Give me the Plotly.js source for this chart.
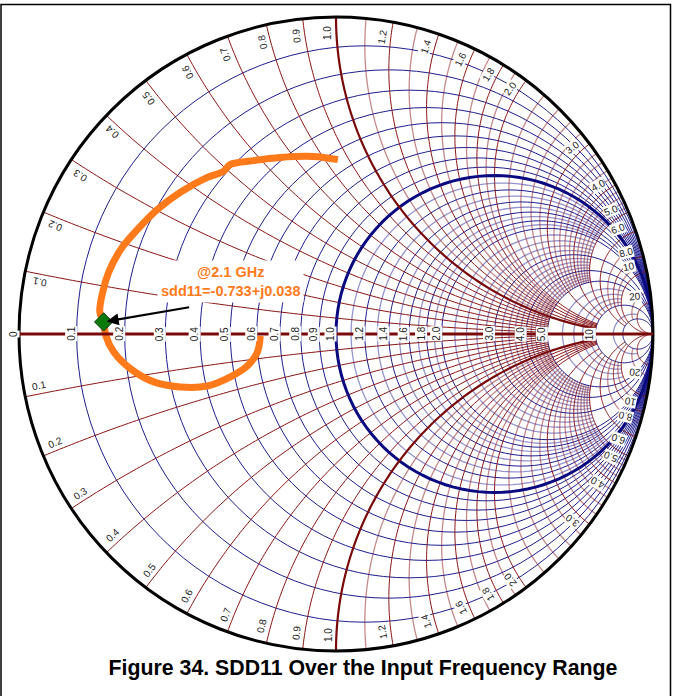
<!DOCTYPE html>
<html><head><meta charset="utf-8">
<script src="https://cdn.plot.ly/plotly-3.0.1.min.js"></script>
<style>html,body{margin:0;padding:0;background:#fff}#chart{width:673px;height:696px}</style>
</head><body><div id="chart"></div>
<script>
// SDD11 trace, read as reflection coefficient (Gamma) real / imaginary parts
const gammaRe = [0.006,-0.072,-0.176,-0.261,-0.333,-0.355,-0.406,-0.491,-0.563,-0.626,-0.679,-0.717,-0.736,-0.745,-0.733,-0.726,-0.701,-0.648,-0.575,-0.491,-0.406,-0.333,-0.280,-0.248,-0.239];
const gammaIm = [0.550,0.560,0.557,0.547,0.535,0.513,0.494,0.447,0.393,0.330,0.267,0.195,0.132,0.069,0.038,-0.006,-0.057,-0.110,-0.151,-0.167,-0.164,-0.135,-0.101,-0.057,-0.006];
const markerRe = [-0.733];
const markerIm = [0.038];
const markerText = '@2.1 GHz<br>sdd11=-0.733+j0.038';

// tick labels
const realTicks  = [0,0.1,0.2,0.3,0.4,0.5,0.6,0.7,0.8,0.9,1.0,1.2,1.4,1.6,1.8,2.0,3.0,4.0,5.0,10];
const realLabels = ['0','0.1','0.2','0.3','0.4','0.5','0.6','0.7','0.8','0.9','1.0','1.2','1.4','1.6','1.8','2.0','3.0','4.0','5.0','10'];
const imagTicks  = [0.1,0.2,0.3,0.4,0.5,0.6,0.7,0.8,0.9,1.0,1.2,1.4,1.6,1.8,2.0,3.0,4.0,5.0,6.0,8.0,10,20];
const imagLabels = ['0.1','0.2','0.3','0.4','0.5','0.6','0.7','0.8','0.9','1.0','1.2','1.4','1.6','1.8','2.0','3.0','4.0','5.0','6.0','8.0','10','20'];

// grid circles: [value, limit of the other coordinate]
const majorRes = [[0.1,1e9],[0.2,1e9],[0.3,1e9],[0.4,1e9],[0.5,1e9],[0.6,1e9],[0.7,1e9],[0.8,1e9],[0.9,1e9],
  [1.2,1e9],[1.4,1e9],[1.6,1e9],[1.8,1e9],[2.0,1e9],[3,1e9],[4,1e9],[5,1e9],[10,1e9],[20,1e9]];
const minorRes = [[1.1,5],[1.3,5],[1.5,5],[1.7,5],[1.9,5],[2.2,5],[2.4,5],[2.6,5],[2.8,5],[3.2,5],[3.4,5],[3.6,5],[3.8,5],
  [4.2,5],[4.4,5],[4.6,5],[4.8,5],[6,10],[7,10],[8,10],[9,10],[15,20]];
const majorReac = [[0.1,5],[0.2,5],[0.3,5],[0.4,5],[0.5,5],[0.6,5],[0.7,5],[0.8,5],[0.9,5],
  [1.2,10],[1.4,10],[1.6,10],[1.8,10],[2.0,10],[3,10],[4,10],[5,10],[6,20],[8,20],[10,1e9],[20,1e9]];
const minorReac = [[1.1,5],[1.3,5],[1.5,5],[1.7,5],[1.9,5],[2.2,5],[2.4,5],[2.6,5],[2.8,5],[3.2,5],[3.4,5],[3.6,5],[3.8,5],
  [4.2,5],[4.4,5],[4.6,5],[4.8,5],[7,10],[9,10],[15,20]];

// layout geometry
const W = 673, H = 696, M = {l:17, r:18, t:17, b:45};
const PW = W - M.l - M.r, PH = H - M.t - M.b;
const R = Math.min(PW, PH) / 2;
const CX = M.l + PW / 2, CY = M.t + PH / 2;
const toPaper = (px, py) => ({x: (px - M.l) / PW, y: 1 - (py - M.t) / PH});
const gPx = (u, v) => [CX + u * R, CY - v * R];

function toZ(u, v) {
  const nr = 1 + u, ni = v, dr = 1 - u, di = -v;
  const den = dr * dr + di * di;
  return [(nr * dr + ni * di) / den, (ni * dr - nr * di) / den];
}
const zs = gammaRe.map((u, i) => toZ(u, gammaIm[i]));
const mz = markerRe.map((u, i) => toZ(u, markerIm[i]));

const N = 120;
// constant-resistance arc, |x| <= xmax (uniform in Gamma-plane angle)
function resPath(r, xmax, out) {
  const B = Math.atan(Math.min(xmax, 1e6) / (r + 1));
  for (let i = 0; i <= N; i++) {
    const b = -B + 2 * B * i / N;
    out.re.push(r); out.im.push((r + 1) * Math.tan(b));
  }
  out.re.push(null); out.im.push(null);
}
// constant-reactance arc (both signs), 0 <= r <= rmax
function reacPath(x, rmax, out) {
  [x, -x].forEach(xs => {
    const a = Math.abs(xs);
    const d0 = Math.atan(a / (Math.min(rmax, 1e6) + 1)), d1 = Math.atan(a);
    for (let i = 0; i <= N; i++) {
      const d = d0 + (d1 - d0) * i / N;
      out.re.push(a / Math.tan(d) - 1); out.im.push(xs);
    }
    out.re.push(null); out.im.push(null);
  });
}
function gridTrace(list, fn, color, width) {
  const out = {re: [], im: []};
  list.forEach(([v, lim]) => fn(v, lim, out));
  return {type:'scattersmith', mode:'lines', real: out.re, imag: out.im, connectgaps:false,
    line:{color: color, width: width}, hoverinfo:'skip', showlegend:false};
}

const traces = [
  gridTrace(minorRes, resPath, 'rgba(60,60,170,0.55)', 1.3),
  gridTrace(minorReac, reacPath, 'rgba(150,40,40,0.55)', 1.3),
  gridTrace(majorRes, resPath, '#1e1e8e', 1),
  gridTrace(majorReac, reacPath, '#8a1414', 1),
  gridTrace([[1, 1e9]], resPath, '#0a0a80', 3),
  gridTrace([[1, 10]], reacPath, '#7a0a0a', 2.2),
  {type:'scattersmith', mode:'lines', real: zs.map(p => p[0]), imag: zs.map(p => p[1]),
   line:{color:'#ff7a1a', width:7, shape:'spline'}, hoverinfo:'skip', showlegend:false},
  {type:'scattersmith', mode:'markers', real: mz.map(p => p[0]), imag: mz.map(p => p[1]),
   marker:{symbol:'diamond', size:14, color:'#0a7a0a', line:{color:'#063806', width:1}},
   hoverinfo:'skip', showlegend:false}
];

const annotations = [];
const fmtFont = {family:'Liberation Sans, Arial, sans-serif', size:10, color:'#222'};
realTicks.forEach((r, i) => {
  const g = (r - 1) / (r + 1);
  const [px, py] = gPx(g, 0);
  const p = toPaper(px - 6, py);
  annotations.push({xref:'paper', yref:'paper', x:p.x, y:p.y, text:realLabels[i], showarrow:false,
    textangle:-90, font:fmtFont, bgcolor:'white', borderpad:0, xanchor:'center', yanchor:'middle'});
});
imagTicks.forEach((x, i) => {
  [x, -x].forEach(xv => {
    const den = 1 + xv * xv;
    const gu = (xv * xv - 1) / den, gv = 2 * xv / den;
    const th = Math.atan2(gv, gu);
    const phi = th < 0 ? th + Math.PI : th;
    const inset = 16, tang = 8;
    const px = CX + (R - inset) * Math.cos(th) + tang * Math.cos(phi + Math.PI / 2);
    const py = CY - ((R - inset) * Math.sin(th) + tang * Math.sin(phi + Math.PI / 2));
    const p = toPaper(px, py);
    annotations.push({xref:'paper', yref:'paper', x:p.x, y:p.y, text:imagLabels[i], showarrow:false,
      textangle: -phi * 180 / Math.PI, font:fmtFont, bgcolor:'white', borderpad:0, xanchor:'center', yanchor:'middle'});
  });
});
// marker label and arrow
const [mpx, mpy] = gPx(markerRe[0], markerIm[0]);
const mp = toPaper(mpx, mpy);
annotations.push({xref:'paper', yref:'paper', x:mp.x, y:mp.y, ax:87, ay:-15, text:'', showarrow:true,
  arrowhead:2, arrowsize:1.1, arrowwidth:2.2, arrowcolor:'#000', standoff:3});
const lp = toPaper(231, 281);
annotations.push({xref:'paper', yref:'paper', x:lp.x, y:lp.y, text:'<b>' + markerText + '</b>', showarrow:false,
  font:{family:'Liberation Sans, Arial, sans-serif', size:14.5, color:'#ff7a1a'}, bgcolor:'white', borderpad:3,
  align:'center', xanchor:'center', yanchor:'middle'});

const layout = {
  width: W, height: H, margin: M, paper_bgcolor:'white', showlegend:false,
  title: {text:'<b>Figure 34. SDD11 Over the Input Frequency Range</b>', x: 363 / W, xanchor:'center',
    y: 1 - 668 / H, yanchor:'middle', font:{family:'Liberation Sans, Arial, sans-serif', size:21.3, color:'#000'}},
  smith: {
    domain:{x:[0,1], y:[0,1]}, bgcolor:'white',
    realaxis:{tickvals:[1], showticklabels:false, ticks:'', showgrid:false,
      showline:true, linecolor:'#7a0a0a', linewidth:3, layer:'above traces'},
    imaginaryaxis:{tickvals:[1], showticklabels:false, ticks:'', showgrid:false,
      showline:true, linecolor:'#000', linewidth:3, layer:'above traces'}
  },
  annotations: annotations,
  shapes: [{type:'rect', xref:'paper', yref:'paper', x0: toPaper(1, 0).x, x1: toPaper(670.5, 0).x,
    y0: toPaper(0, 4.5).y, y1: toPaper(0, 720).y, line:{color:'#000', width:1.5}, fillcolor:'rgba(0,0,0,0)'}]
};
Plotly.newPlot('chart', traces, layout, {displayModeBar:false, staticPlot:true});
</script>
</body></html>
